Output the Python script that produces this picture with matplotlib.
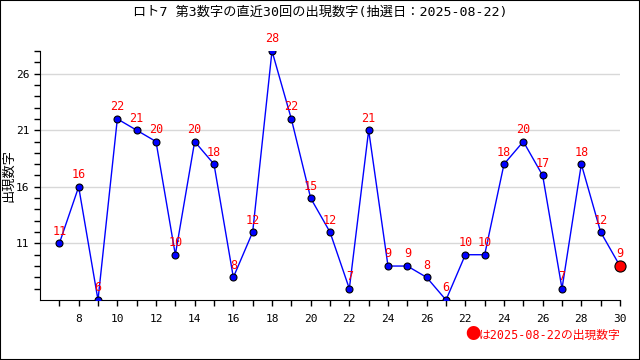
import numpy as np
import matplotlib
matplotlib.use("Agg")
import matplotlib.pyplot as plt
from matplotlib.patches import Rectangle

plt.rcParams['font.family'] = ['DejaVu Sans Mono', 'Noto Sans CJK JP']

# 直近30回の第3数字
kai = np.arange(1, 31)
suuji = [11, 16, 6, 22, 21, 20, 10, 20, 18, 8, 12, 28, 22, 15, 12,
         7, 21, 9, 9, 8, 6, 10, 10, 18, 20, 17, 7, 18, 12, 9]
x_ticks = np.arange(2, 31, 2)
x_labels = ['8', '10', '12', '14', '16', '18', '20', '22', '24', '26',
            '22', '24', '26', '28', '30']
y_ticks = [11, 16, 21, 26]

fig = plt.figure(figsize=(6.4, 3.6), dpi=100)
ax = fig.add_axes([40/640, 60/360, 580/640, 249/360])

for y in y_ticks:
    ax.axhline(y, color='#d8d8d8', lw=1, zorder=0)

ax.plot(kai, suuji, '-', color='blue', lw=1, zorder=2)
ax.plot(kai[:-1], suuji[:-1], 'o', color='blue', mec='black', mew=0.8, ms=5, zorder=3)
ax.plot(kai[-1:], suuji[-1:], 'o', color='red', mec='black', mew=0.8, ms=8, zorder=4,
        clip_on=False)

for xi, yi in zip(kai, suuji):
    ax.annotate(str(yi), (xi, yi), xytext=(0, 4), textcoords='offset points',
                ha='center', va='bottom', color='red', fontsize=8.5, zorder=5)

ax.set_xlim(0, 30)
ax.set_ylim(6, 28)
ax.set_xticks(x_ticks)
ax.set_xticklabels(x_labels)
ax.set_xticks(kai, minor=True)
ax.set_yticks(y_ticks)
ax.set_yticks(np.arange(7, 29), minor=True)
ax.tick_params(which='both', direction='out', length=4, width=1, labelsize=8)
ax.tick_params(axis='x', pad=6)
ax.spines['top'].set_visible(False)
ax.spines['right'].set_visible(False)

fig.text(9/640, 1 - 175/360, '出現数字', rotation=90, ha='center', va='center',
         fontsize=9.5)
fig.text(0.5, 1 - 12/360, 'ロト7 第3数字の直近30回の出現数字(抽選日：2025-08-22)',
         ha='center', va='center', fontsize=9.5)
fig.text(620/640, 1 - 335/360, 'は2025-08-22の出現数字', ha='right', va='center',
         color='red', fontsize=8.5)
fig.text(480/640, 1 - 335/360, '●', ha='right', va='center', color='red',
         fontsize=11, family=['Noto Sans CJK JP'])

fig.patches.append(Rectangle((0, 0), 1, 1, transform=fig.transFigure,
                             fill=False, ec='black', lw=1.5))
fig.savefig('out.png', dpi=100)
